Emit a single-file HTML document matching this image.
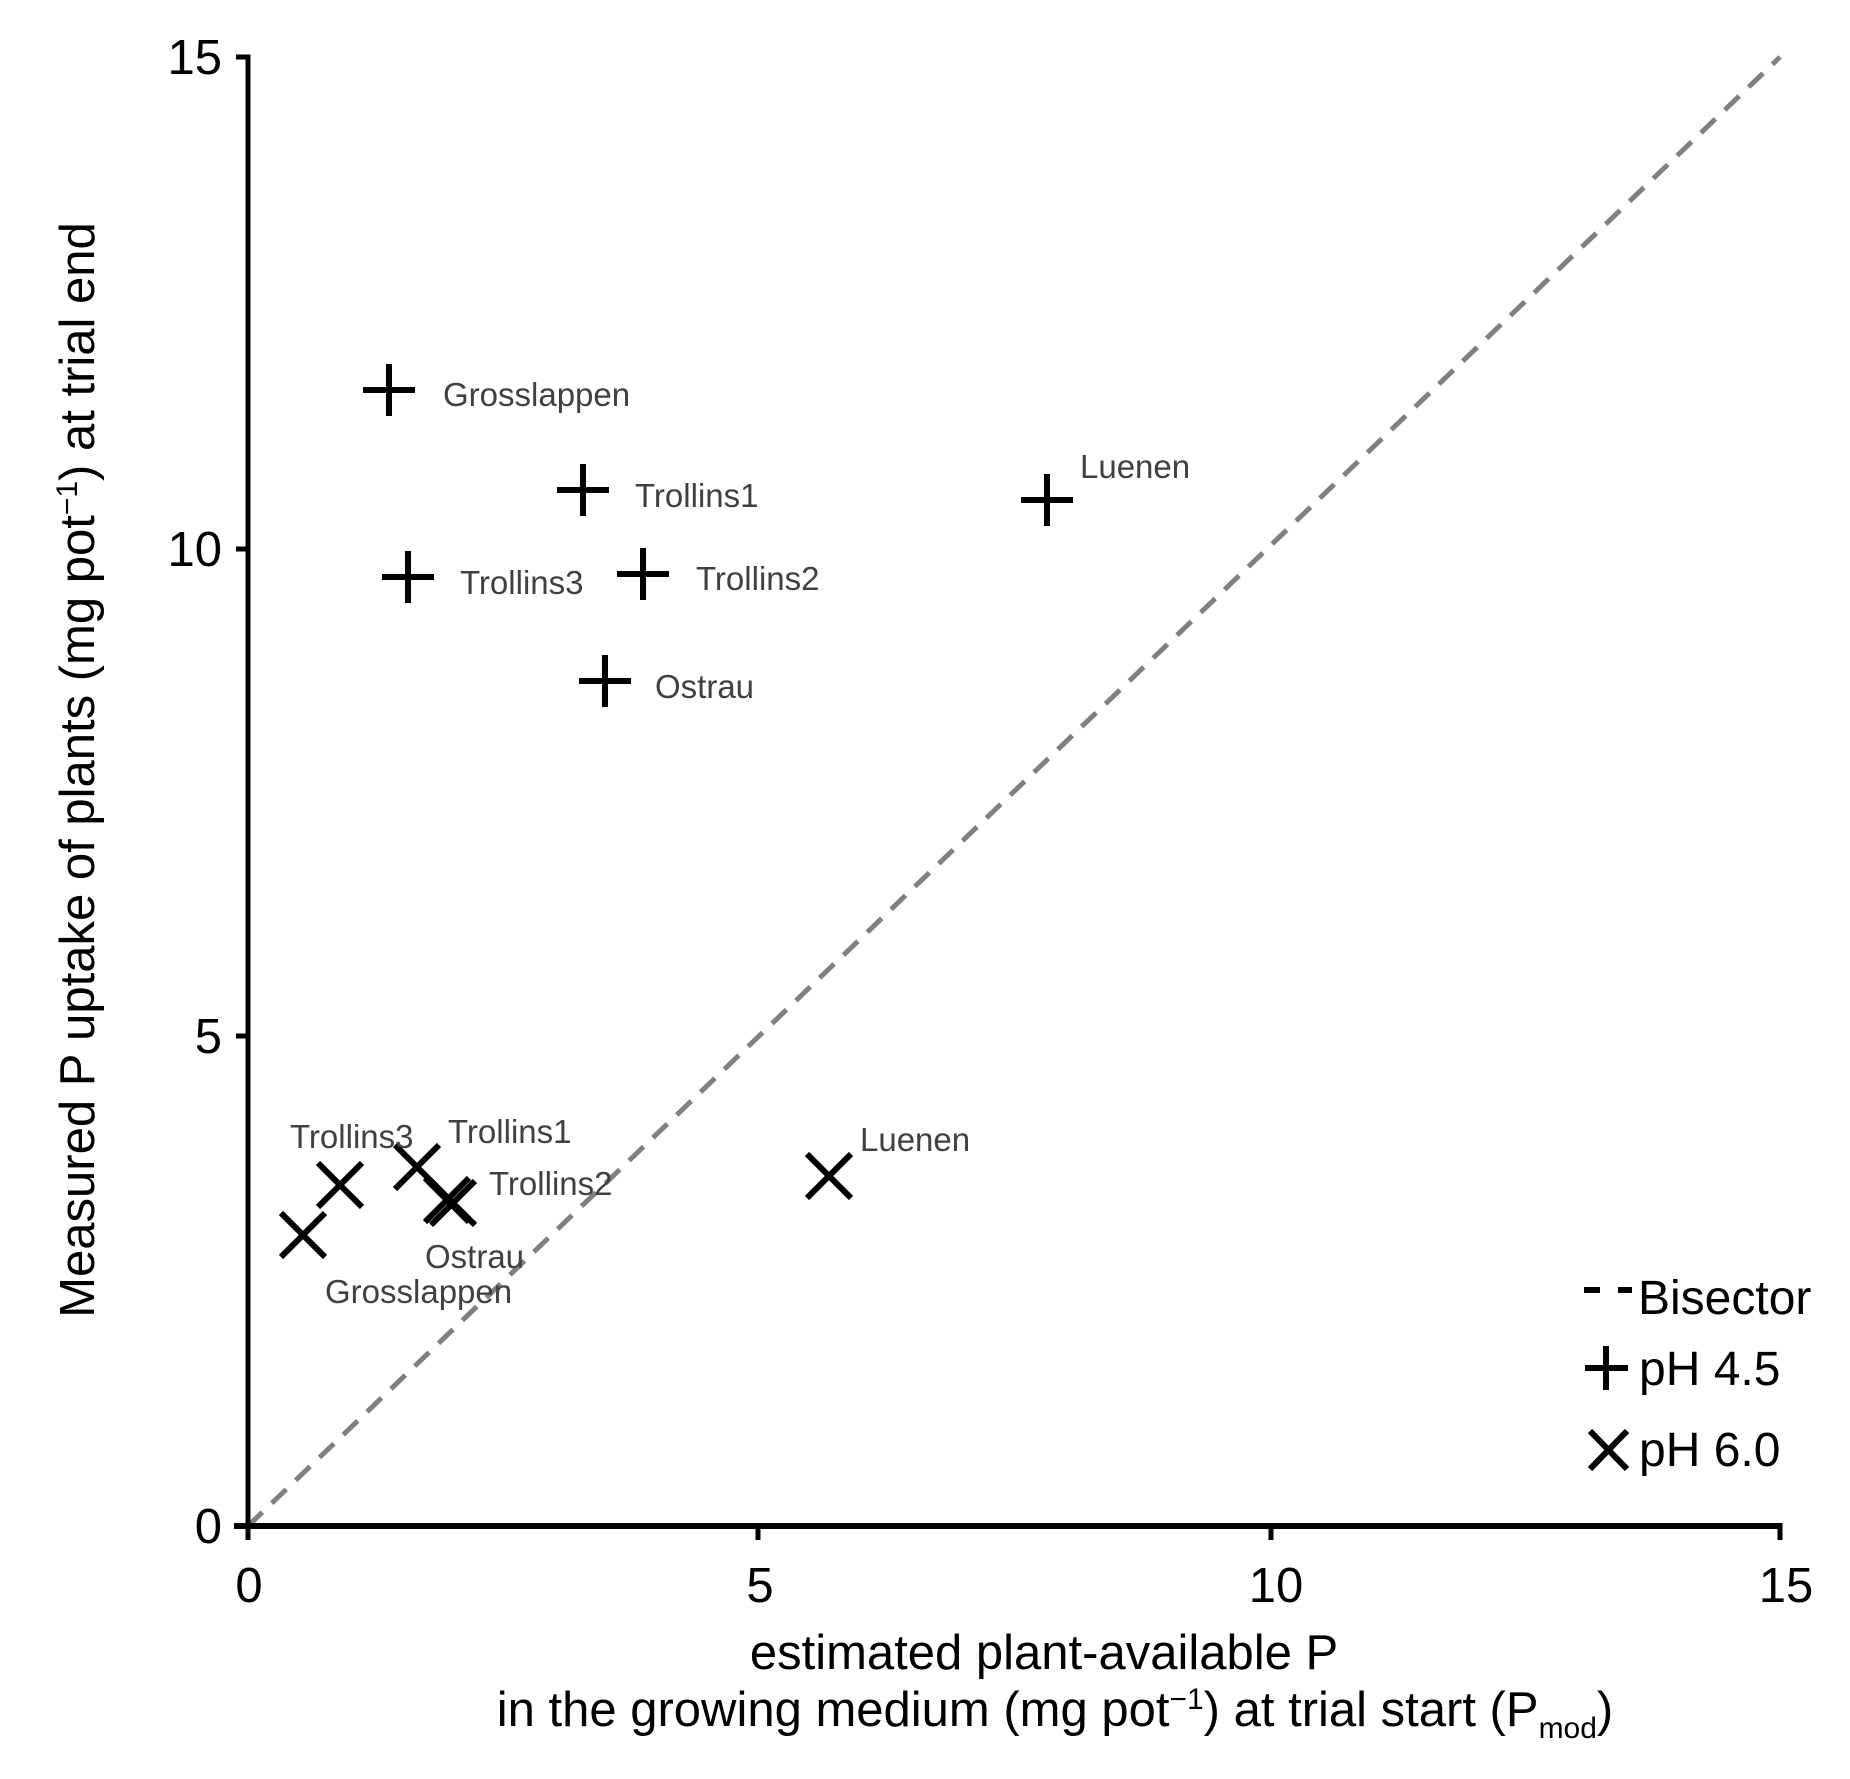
<!DOCTYPE html>
<html><head><meta charset="utf-8"><style>
html,body{margin:0;padding:0;background:#fff}
svg{display:block}
text{font-family:"Liberation Sans",sans-serif}
</style></head><body>
<svg width="1850" height="1779" viewBox="0 0 1850 1779" xmlns="http://www.w3.org/2000/svg">
<defs>
<g id="p"><path d="M-26 0H26M0 -26V26" stroke="#000" stroke-width="6"/></g>
<g id="x"><path d="M-22 -22L22 22M-22 22L22 -22" stroke="#000" stroke-width="6"/></g>
</defs>
<!-- bisector -->
<line x1="248" y1="1526" x2="1780" y2="57" stroke="#808080" stroke-width="5" stroke-dasharray="20 13"/>
<!-- axes -->
<path d="M236 57H248V1526" fill="none" stroke="#000" stroke-width="5"/>
<line x1="236" y1="549" x2="248" y2="549" stroke="#000" stroke-width="5"/>
<line x1="236" y1="1036" x2="248" y2="1036" stroke="#000" stroke-width="5"/>
<line x1="234" y1="1526" x2="1782" y2="1526" stroke="#000" stroke-width="6"/>
<g stroke="#000" stroke-width="5">
<line x1="248" y1="1526" x2="248" y2="1540"/>
<line x1="758" y1="1526" x2="758" y2="1540"/>
<line x1="1271" y1="1526" x2="1271" y2="1540"/>
<line x1="1780" y1="1523" x2="1780" y2="1540"/>
</g>
<g font-size="49" text-anchor="end" fill="#000">
<text x="222" y="74">15</text>
<text x="222" y="566">10</text>
<text x="222" y="1053">5</text>
<text x="222" y="1543">0</text>
</g>
<g font-size="49" text-anchor="middle" fill="#000">
<text x="249" y="1602">0</text>
<text x="760" y="1602">5</text>
<text x="1276" y="1602">10</text>
<text x="1786" y="1602">15</text>
</g>
<!-- axis titles -->
<text x="1044" y="1669" font-size="49" text-anchor="middle">estimated plant-available  P</text>
<text x="1055" y="1726" font-size="49" text-anchor="middle">in the growing medium (mg pot<tspan dy="-17" font-size="30">−1</tspan><tspan dy="17">) at trial start (P</tspan><tspan dy="12" font-size="30">mod</tspan><tspan dy="-12">)</tspan></text>
<text transform="translate(94,770) rotate(-90)" font-size="49" text-anchor="middle">Measured P uptake of plants (mg pot<tspan dy="-17" font-size="30">−1</tspan><tspan dy="17">) at trial end</tspan></text>
<!-- points -->
<use href="#p" x="389" y="390"/>
<use href="#p" x="583" y="490"/>
<use href="#p" x="1047" y="500"/>
<use href="#p" x="408" y="577"/>
<use href="#p" x="643" y="574"/>
<use href="#p" x="605" y="681"/>
<use href="#x" x="303" y="1235"/>
<use href="#x" x="340" y="1185"/>
<use href="#x" x="417" y="1167"/>
<use href="#x" x="447" y="1200"/>
<use href="#x" x="453" y="1203"/>
<use href="#x" x="829" y="1176"/>
<g font-size="33" fill="#404040">
<text x="443" y="406">Grosslappen</text>
<text x="635" y="507">Trollins1</text>
<text x="1080" y="478">Luenen</text>
<text x="460" y="594">Trollins3</text>
<text x="696" y="590">Trollins2</text>
<text x="655" y="698">Ostrau</text>
<text x="290" y="1148">Trollins3</text>
<text x="448" y="1143">Trollins1</text>
<text x="860" y="1151">Luenen</text>
<text x="489" y="1195">Trollins2</text>
<text x="425" y="1268">Ostrau</text>
<text x="325" y="1303">Grosslappen</text>
</g>
<!-- legend -->
<path d="M1584 1290H1600M1618 1290H1632" stroke="#000" stroke-width="6"/>
<path d="M1585 1368H1628M1606 1346V1390" stroke="#000" stroke-width="6"/>
<path d="M1590 1431L1627 1469M1590 1469L1627 1431" stroke="#000" stroke-width="6"/>
<g font-size="48" fill="#000">
<text x="1638" y="1314">Bisector</text>
<text x="1639" y="1385">pH 4.5</text>
<text x="1639" y="1466">pH 6.0</text>
</g>
</svg>
</body></html>
